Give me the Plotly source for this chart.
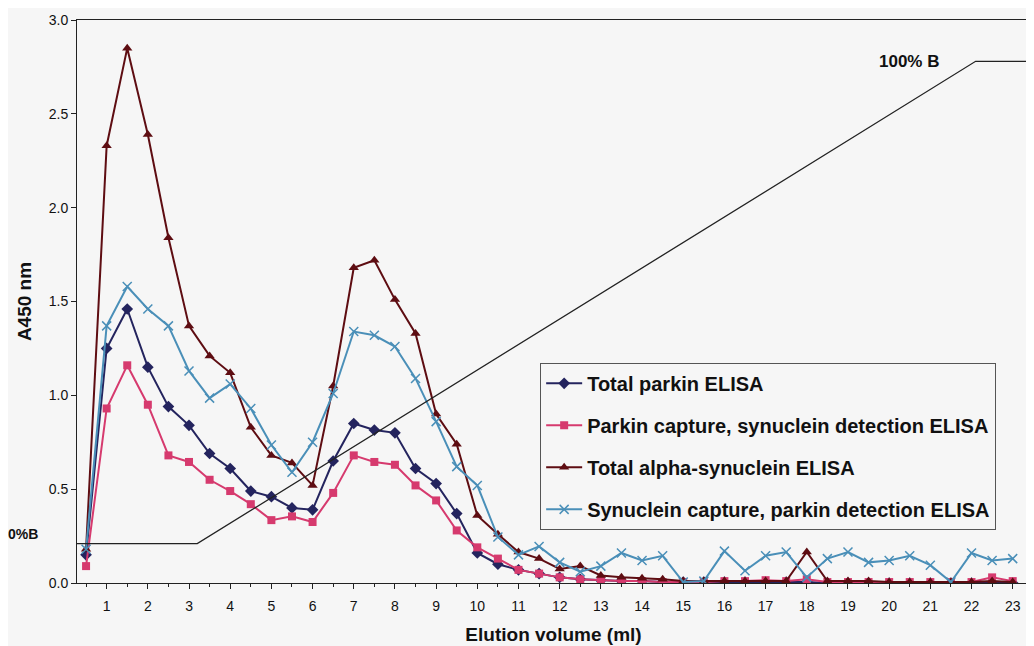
import plotly.graph_objects as go

elution_ml = [0.5, 1.0, 1.5, 2.0, 2.5, 3.0, 3.5, 4.0, 4.5, 5.0, 5.5, 6.0, 6.5, 7.0, 7.5, 8.0,
              8.5, 9.0, 9.5, 10.0, 10.5, 11.0, 11.5, 12.0, 12.5, 13.0, 13.5, 14.0, 14.5, 15.0,
              15.5, 16.0, 16.5, 17.0, 17.5, 18.0, 18.5, 19.0, 19.5, 20.0, 20.5, 21.0, 21.5,
              22.0, 22.5, 23.0]

total_parkin = [0.15, 1.25, 1.46, 1.15, 0.94, 0.84, 0.69, 0.61, 0.49, 0.46, 0.40, 0.39, 0.65,
                0.85, 0.815, 0.80, 0.61, 0.53, 0.37, 0.16, 0.10, 0.07, 0.05, 0.03, 0.02, 0.015,
                0.01, 0.01, 0.005, 0.005, 0.005, 0.005, 0.005, 0.005, 0.005, 0.005, 0.0, 0.0,
                0.0, 0.0, 0.0, 0.0, 0.0, 0.0, 0.0, 0.0]

parkin_capture = [0.09, 0.93, 1.16, 0.95, 0.68, 0.645, 0.55, 0.49, 0.42, 0.335, 0.355, 0.325,
                  0.48, 0.68, 0.645, 0.63, 0.52, 0.44, 0.28, 0.19, 0.13, 0.07, 0.05, 0.03, 0.02,
                  0.015, 0.01, 0.01, 0.005, 0.005, 0.005, 0.01, 0.01, 0.015, 0.01, 0.02, 0.005,
                  0.005, 0.005, 0.005, 0.005, 0.005, 0.005, 0.005, 0.03, 0.01]

total_syn = [0.18, 2.33, 2.85, 2.39, 1.84, 1.37, 1.21, 1.12, 0.83, 0.68, 0.64, 0.52, 1.05, 1.68,
             1.72, 1.51, 1.33, 0.90, 0.74, 0.36, 0.26, 0.165, 0.13, 0.075, 0.09, 0.04, 0.03,
             0.025, 0.02, 0.01, 0.01, 0.01, 0.01, 0.01, 0.01, 0.165, 0.01, 0.01, 0.01, 0.005,
             0.005, 0.005, 0.005, 0.005, 0.01, 0.005]

syn_capture = [0.18, 1.37, 1.58, 1.46, 1.37, 1.13, 0.985, 1.06, 0.93, 0.735, 0.59, 0.75, 1.01,
               1.34, 1.32, 1.26, 1.09, 0.86, 0.62, 0.52, 0.245, 0.15, 0.195, 0.11, 0.06, 0.09,
               0.16, 0.12, 0.145, 0.005, 0.01, 0.17, 0.065, 0.145, 0.165, 0.03, 0.13, 0.165,
               0.11, 0.12, 0.145, 0.095, 0.005, 0.16, 0.12, 0.13]

gradient_ml = [0.28, 3.2, 22.1, 23.42]
gradient_pct_b = [0, 0, 100, 100]

x_tick_vals = list(range(1, 24))
y_tick_vals = [0.0, 0.5, 1.0, 1.5, 2.0, 2.5, 3.0]

series = [
    ("Total parkin ELISA", total_parkin, "#24245e", "diamond", 9),
    ("Parkin capture, synuclein detection ELISA", parkin_capture, "#d63a6e", "square", 8),
    ("Total alpha-synuclein ELISA", total_syn, "#5e0d12", "triangle-up", 9),
    ("Synuclein capture, parkin detection ELISA", syn_capture, "#4a8fb8", "x-thin", 9),
]

fig = go.Figure()

fig.add_trace(go.Scatter(x=gradient_ml, y=gradient_pct_b, mode="lines", yaxis="y2",
                         line=dict(color="#222222", width=1.3), showlegend=False,
                         hoverinfo="skip"))

for i, (name, vals, color, symbol, size) in enumerate(series):
    mk = dict(symbol=symbol, size=size, color=color)
    if symbol == "x-thin":
        mk["line"] = dict(color=color, width=1.5)
    fig.add_trace(go.Scatter(x=elution_ml, y=vals, name=name, mode="lines+markers",
                             line=dict(color=color, width=2), marker=mk,
                             legendgroup=f"g{i}"))

bg = "#f6f6f6"
fig.update_layout(
    width=1026, height=638,
    paper_bgcolor=bg, plot_bgcolor=bg,
    margin=dict(l=69, r=4, t=12, b=63),
    font=dict(family="Liberation Sans, Arial, sans-serif", color="#111111"),
    showlegend=True,
    legend=dict(x=0.486, y=0.391, xanchor="left", yanchor="top",
                bgcolor=bg, bordercolor="#555555", borderwidth=1,
                font=dict(size=20, family="Liberation Sans, Arial, sans-serif",
                          color="#111111", weight="bold"),
                tracegroupgap=13, itemwidth=36, traceorder="grouped"),
    xaxis=dict(range=[0.28, 23.42], tickmode="array", tickvals=x_tick_vals,
               ticks="outside", ticklen=5, tickcolor="#222", showgrid=False,
               zeroline=False, showline=True, linecolor="#222", linewidth=1, mirror=True,
               tickfont=dict(size=14), ticklabelstandoff=5,
               minor=dict(dtick=0.5, ticks="outside", ticklen=3, tickcolor="#222"),
               title=dict(text="<b>Elution volume (ml)</b>", font=dict(size=19), standoff=14)),
    yaxis=dict(range=[0, 3.0], tickmode="array", tickvals=y_tick_vals, tickformat=".1f",
               ticks="outside", ticklen=5, tickcolor="#222", showgrid=False,
               zeroline=False, showline=True, linecolor="#222", linewidth=1, mirror=True,
               tickfont=dict(size=14),
               title=dict(text="<b>A450 nm</b>", font=dict(size=19), standoff=12)),
    yaxis2=dict(overlaying="y", range=[-0.21 / 2.57 * 100, (3.0 - 0.21) / 2.57 * 100],
                visible=False, showgrid=False, zeroline=False),
    annotations=[
        dict(text="<b>0%B</b>", x=0, y=0, xref="paper", yref="y2", xanchor="right",
             yanchor="bottom", xshift=-37, showarrow=False, font=dict(size=14)),
        dict(text="<b>100% B</b>", x=22.1, y=100, xref="x", yref="y2", xanchor="right",
             yanchor="middle", xshift=-35, showarrow=False, font=dict(size=17)),
    ],
)

fig.write_html("out.html")
